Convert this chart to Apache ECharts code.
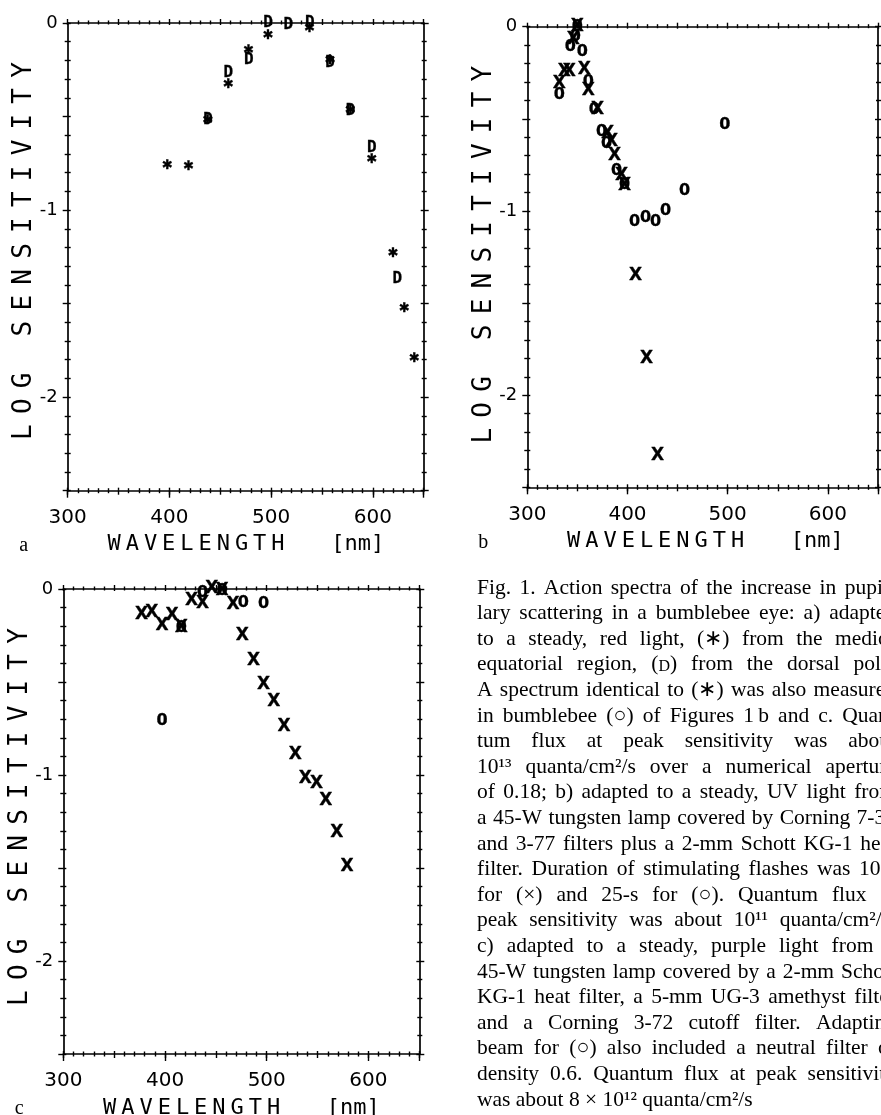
<!DOCTYPE html>
<html><head><meta charset="utf-8">
<script src="https://cdn.jsdelivr.net/npm/echarts@6/dist/echarts.min.js"></script>
<style>html,body{margin:0;padding:0;background:#fff}#c{width:881px;height:1115px}</style>
</head><body><div id="c"></div>
<script>
// ---------- data ----------
// Panel a: (*) medio-equatorial, (D) dorsal pole
const aStarX = [398, 419, 438, 458, 478, 497, 538, 558, 578, 599, 620, 631, 641];
const aStarY = [-0.76, -0.77, -0.52, -0.33, -0.145, -0.065, -0.03, -0.2, -0.47, -0.73, -1.235, -1.525, -1.795];
const aDX = [438, 458, 478, 497, 517, 538, 558, 578, 599, 624];
const aDY = [-0.52, -0.267, -0.195, 0.0, -0.01, 0.0, -0.215, -0.47, -0.665, -1.365];
// Panel b: (x) 10-s flashes, (o) 25-s flashes
const bXX = [332, 337, 342, 346, 350, 357, 361, 370, 380, 384, 387, 394, 397, 408, 419, 430];
const bXY = [-0.31, -0.245, -0.245, -0.07, 0.0, -0.235, -0.344, -0.45, -0.58, -0.625, -0.697, -0.806, -0.86, -1.353, -1.80, -2.33];
const bOX = [332, 343, 348, 350, 355, 361, 367, 374, 379, 389, 397, 407, 418, 428, 438, 457, 497];
const bOY = [-0.37, -0.11, -0.054, 0.0, -0.136, -0.30, -0.45, -0.57, -0.634, -0.78, -0.86, -1.06, -1.04, -1.06, -1.0, -0.89, -0.53];
// Panel c
const cXX = [377, 387, 397, 407, 416, 426, 437, 446, 456, 467, 476, 487, 497, 507, 517, 528, 538, 549, 558, 569, 579];
const cXY = [-0.138, -0.126, -0.198, -0.144, -0.207, -0.063, -0.081, 0.0, -0.01, -0.085, -0.25, -0.386, -0.512, -0.605, -0.742, -0.889, -1.02, -1.047, -1.14, -1.31, -1.49];
const cOX = [397, 416, 437, 456, 477, 497];
const cOY = [-0.71, -0.207, -0.018, -0.01, -0.072, -0.081];
// axes
const xMin = 300, xMax = 650, xTickLabels = [300, 400, 500, 600];
const yMin = -2.5, yMax = 0, yTickLabels = [0, -1, -2];
const yTitle = 'LOG SENSITIVITY';
const xTitle = 'WAVELENGTH';
const xUnit = '[nm]';
const panelLetters = ['a', 'b', 'c'];
const captionLines = [
 "Fig. 1. Action spectra of the increase in pupil-",
 "lary scattering in a bumblebee eye: a) adapted",
 "to a steady, red light, (\u2217) from the medio-",
 "equatorial region, (D) from the dorsal pole.",
 "A spectrum identical to (\u2217) was also measured",
 "in bumblebee (\u25CB) of Figures 1\u2009b and c. Quan-",
 "tum flux at peak sensitivity was about",
 "10\u00B9\u00B3 quanta/cm\u00B2/s over a numerical aperture",
 "of 0.18; b) adapted to a steady, UV light from",
 "a 45-W tungsten lamp covered by Corning 7-37",
 "and 3-77 filters plus a 2-mm Schott KG-1 heat",
 "filter. Duration of stimulating flashes was 10-s",
 "for (\u00D7) and 25-s for (\u25CB). Quantum flux at",
 "peak sensitivity was about 10\u00B9\u00B9 quanta/cm\u00B2/s;",
 "c) adapted to a steady, purple light from a",
 "45-W tungsten lamp covered by a 2-mm Schott",
 "KG-1 heat filter, a 5-mm UG-3 amethyst filter",
 "and a Corning 3-72 cutoff filter. Adapting",
 "beam for (\u25CB) also included a neutral filter of",
 "density 0.6. Quantum flux at peak sensitivity",
 "was about 8 \u00D7 10\u00B9\u00B2 quanta/cm\u00B2/s"
];

// ---------- layout ----------
const grids = [
  {left: 67.7, top: 23, width: 356, height: 467.7},
  {left: 527.3, top: 26.7, width: 353.5, height: 460.6},
  {left: 63.3, top: 589, width: 356, height: 465}
];
const BLACK = '#000';
const xAxes = [], yAxes = [], mainX = [], mainY = [];
const lineSt = {color: BLACK, width: 1.7};
const tickSt = {color: BLACK, width: 1.4};

function addAxes(g) {
  const bx = {type: 'value', gridIndex: g, min: xMin, max: xMax, splitLine: {show: false}, minorSplitLine: {show: false}, axisPointer: {show: false}};
  mainX[g] = xAxes.length;
  xAxes.push(Object.assign({}, bx, {position: 'bottom', interval: 50,
    axisLine: {show: true, onZero: false, lineStyle: lineSt},
    axisTick: {show: true, length: 4, lineStyle: tickSt},
    minorTick: {show: true, splitNumber: 5, length: 2.5, lineStyle: tickSt},
    axisLabel: {show: true, margin: 17, color: BLACK, fontSize: 20, fontFamily: '"DejaVu Sans", sans-serif',
      formatter: v => xTickLabels.indexOf(Math.round(v)) >= 0 ? String(Math.round(v)) : ''}}));
  xAxes.push(Object.assign({}, bx, {position: 'bottom', interval: 50,
    axisLine: {show: false, onZero: false}, axisLabel: {show: false},
    axisTick: {show: true, inside: true, length: 3, lineStyle: tickSt},
    minorTick: {show: true, splitNumber: 5, length: 2.5, lineStyle: tickSt}}));
  xAxes.push(Object.assign({}, bx, {position: 'bottom', interval: 100,
    axisLine: {show: false, onZero: false}, axisLabel: {show: false},
    axisTick: {show: true, length: 7, lineStyle: tickSt}, minorTick: {show: false}}));
  xAxes.push(Object.assign({}, bx, {position: 'top', interval: 50,
    axisLine: {show: true, onZero: false, lineStyle: lineSt}, axisLabel: {show: false},
    axisTick: {show: true, length: 4, lineStyle: tickSt},
    minorTick: {show: true, splitNumber: 5, length: 2.5, lineStyle: tickSt}}));
  xAxes.push(Object.assign({}, bx, {position: 'top', interval: 50,
    axisLine: {show: false, onZero: false}, axisLabel: {show: false},
    axisTick: {show: true, inside: true, length: 2, lineStyle: tickSt},
    minorTick: {show: true, splitNumber: 5, length: 1.5, lineStyle: tickSt}}));

  const by = {type: 'value', gridIndex: g, min: yMin, max: yMax, interval: 0.5, splitLine: {show: false}, minorSplitLine: {show: false}, axisPointer: {show: false}};
  mainY[g] = yAxes.length;
  yAxes.push(Object.assign({}, by, {position: 'left',
    axisLine: {show: true, onZero: false, lineStyle: lineSt},
    axisTick: {show: true, length: 5, lineStyle: tickSt},
    minorTick: {show: true, splitNumber: 5, length: 3, lineStyle: tickSt},
    axisLabel: {show: true, margin: 10, color: BLACK, fontSize: 18, fontFamily: '"DejaVu Sans", sans-serif',
      formatter: v => { const r = Math.round(v); return (Math.abs(v - r) < 1e-6 && yTickLabels.indexOf(r) >= 0) ? String(r) : ''; }}}));
  yAxes.push(Object.assign({}, by, {position: 'left',
    axisLine: {show: false, onZero: false}, axisLabel: {show: false},
    axisTick: {show: true, inside: true, length: 3, lineStyle: tickSt},
    minorTick: {show: true, splitNumber: 5, length: 3, lineStyle: tickSt}}));
  yAxes.push(Object.assign({}, by, {position: 'right',
    axisLine: {show: true, onZero: false, lineStyle: lineSt}, axisLabel: {show: false},
    axisTick: {show: true, length: 5, lineStyle: tickSt},
    minorTick: {show: true, splitNumber: 5, length: 3, lineStyle: tickSt}}));
  yAxes.push(Object.assign({}, by, {position: 'right',
    axisLine: {show: false, onZero: false}, axisLabel: {show: false},
    axisTick: {show: true, inside: true, length: 3, lineStyle: tickSt},
    minorTick: {show: true, splitNumber: 5, length: 2, lineStyle: tickSt}}));
}
grids.forEach((g, i) => addAxes(i));

const glyphs = {
  star: {text: '\u2731', fontSize: 13, fontFamily: '"DejaVu Sans", sans-serif', fontWeight: 'normal', border: 0.3},
  D:    {text: 'D', fontSize: 16, fontFamily: '"DejaVu Sans Mono", monospace', fontWeight: 'bold', border: 0.3},
  X:    {text: 'X', fontSize: 17, fontFamily: '"DejaVu Sans", sans-serif', fontWeight: 'bold', border: 0.3},
  O:    {text: '0', fontSize: 16, fontFamily: '"DejaVu Sans", sans-serif', fontWeight: 'bold', border: 0.3}
};
function glyphSeries(g, xs, ys, key) {
  const gl = glyphs[key];
  return {type: 'scatter', xAxisIndex: mainX[g], yAxisIndex: mainY[g],
    data: xs.map((x, i) => [x, ys[i]]), symbol: 'circle', symbolSize: 1,
    itemStyle: {color: 'rgba(255,255,255,0)', opacity: 1}, silent: true, clip: false, z: 5,
    emphasis: {disabled: true},
    label: {show: true, position: 'inside', formatter: gl.text, color: BLACK, opacity: 1,
      textBorderColor: BLACK, textBorderWidth: gl.border,
      fontSize: gl.fontSize, fontFamily: gl.fontFamily, fontWeight: gl.fontWeight}};
}
const series = [
  glyphSeries(0, aDX, aDY, 'D'),
  glyphSeries(0, aStarX, aStarY, 'star'),
  glyphSeries(1, bOX, bOY, 'O'),
  glyphSeries(1, bXX, bXY, 'X'),
  glyphSeries(2, cOX, cOY, 'O'),
  glyphSeries(2, cXX, cXY, 'X')
];

// ---------- text graphics ----------
const gfx = [];
const MONO = '"DejaVu Sans Mono", monospace';
const SERIF = '"Liberation Serif", "Times New Roman", serif';
grids.forEach((g, gi) => {
  const bottom = g.top + g.height;
  // vertical y-axis title, letter-spaced
  const yb = g.top + 422, adv = 388 / yTitle.length;
  yTitle.split('').forEach((ch, i) => {
    if (ch === ' ') return;
    gfx.push({type: 'text', x: g.left - 43, y: yb - (i + 0.5) * adv, rotation: Math.PI / 2,
      style: {text: ch, fontSize: 26, fontFamily: MONO, fill: BLACK, align: 'center', verticalAlign: 'middle'}});
  });
  // x-axis title
  const xs = g.left + 37.3, xadv = 18.2;
  xTitle.split('').forEach((ch, i) => {
    gfx.push({type: 'text', x: xs + (i + 0.5) * xadv, y: bottom + 54,
      style: {text: ch, fontSize: 22, fontFamily: MONO, fill: BLACK, align: 'center', verticalAlign: 'middle'}});
  });
  gfx.push({type: 'text', x: g.left + 290, y: bottom + 54,
    style: {text: xUnit, fontSize: 22, fontFamily: MONO, fill: BLACK, align: 'center', verticalAlign: 'middle'}});
  gfx.push({type: 'text', x: g.left - 44, y: bottom + 55,
    style: {text: panelLetters[gi], fontSize: 20, fontFamily: SERIF, fill: BLACK, align: 'center', verticalAlign: 'middle'}});
});

// caption, justified to a column that runs past the page edge
const mctx = document.createElement('canvas').getContext('2d');
function tw(t, size) { mctx.font = size + 'px ' + SERIF; return mctx.measureText(t).width; }
const CAP = 21.5, SC = 16, X0 = 477, X1 = 896, Y0 = 588, LH = 25.6;
captionLines.forEach((line, li) => {
  const words = line.split(' ');
  const widths = words.map(w => w === '(D)' ? tw('()', CAP) + tw('D', SC) : tw(w, CAP));
  const sum = widths.reduce((a, b) => a + b, 0);
  const last = li === captionLines.length - 1;
  let gap = (last || words.length < 2) ? tw(' ', CAP) : (X1 - X0 - sum) / (words.length - 1);
  if (gap < 3) gap = 3;
  let x = X0;
  const y = Y0 + li * LH + 11;
  words.forEach((w, wi) => {
    if (w === '(D)') {
      const p = tw('(', CAP), d = tw('D', SC);
      gfx.push({type: 'text', x: x, y: y, style: {text: '(', fontSize: CAP, fontFamily: SERIF, fill: BLACK, align: 'left', verticalAlign: 'bottom'}});
      gfx.push({type: 'text', x: x + p, y: y - 1, style: {text: 'D', fontSize: SC, fontFamily: SERIF, fill: BLACK, align: 'left', verticalAlign: 'bottom'}});
      gfx.push({type: 'text', x: x + p + d, y: y, style: {text: ')', fontSize: CAP, fontFamily: SERIF, fill: BLACK, align: 'left', verticalAlign: 'bottom'}});
    } else {
      gfx.push({type: 'text', x: x, y: y, style: {text: w, fontSize: CAP, fontFamily: SERIF, fill: BLACK, align: 'left', verticalAlign: 'bottom'}});
    }
    x += widths[wi] + gap;
  });
});

const chart = echarts.init(document.getElementById('c'), null, {renderer: 'canvas'});
chart.setOption({
  animation: false,
  backgroundColor: '#fff',
  grid: grids.map(g => Object.assign({containLabel: false}, g)),
  xAxis: xAxes,
  yAxis: yAxes,
  series: series,
  graphic: {elements: gfx}
});
</script>
</body></html>
